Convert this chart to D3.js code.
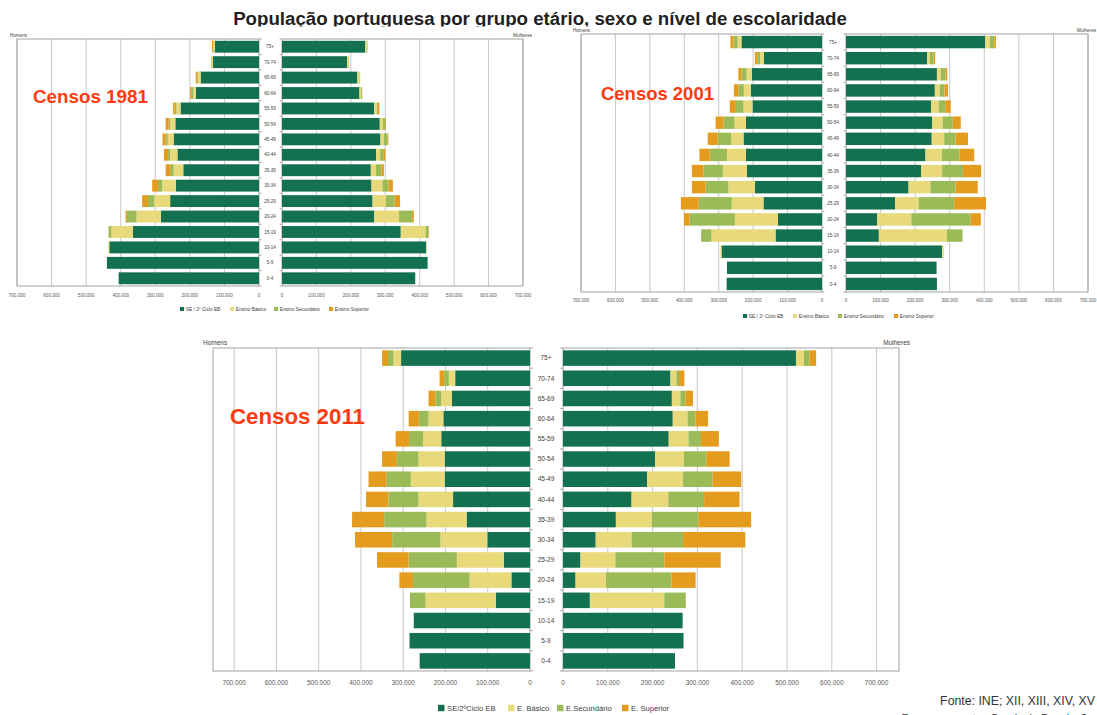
<!DOCTYPE html>
<html><head><meta charset="utf-8">
<script src="https://cdn.jsdelivr.net/npm/d3@7"></script>
<style>body{margin:0;background:#fff} svg{display:block}</style>
</head><body><svg id="c" width="1097" height="715"></svg>
<script>
// ---------- DATA (thousands of persons) ----------
const ages = ["75+","70-74","65-69","60-64","55-59","50-54","45-49","40-44","35-39","30-34","25-29","20-24","15-19","10-14","5-9","0-4"];
const levels = ["SE","EB","ES","SUP"];
const axisTicks = [0,100,200,300,400,500,600,700];
const legendLong = ["SE / 2º Ciclo EB","Ensino Básico","Ensino Secundário","Ensino Superior"];
const legend2011 = ["SE/2ºCiclo EB","E. Básico","E.Secundário","E. Superior"];

const h1981_SE  = [128,133,169,183,227,242,247,236,219,241,257,284,365,433,440,406];
const h1981_EB  = [4,4,7,7,12,15,17,21,28,39,46,70,62,3,0,0];
const h1981_ES  = [1,1,2,4,5,4,6,6,10,12,18,28,7,0,0,0];
const h1981_SUP = [3,1,5,5,5,9,9,12,13,17,17,4,1,0,0,0];
const m1981_SE  = [242,189,219,225,268,284,286,273,258,260,263,268,345,419,423,387];
const m1981_EB  = [6,5,6,4,8,9,10,12,15,32,39,72,72,2,0,0];
const m1981_ES  = [1,1,1,3,3,7,11,9,16,17,25,38,9,0,0,0];
const m1981_SUP = [0,0,1,1,4,2,2,6,7,13,16,5,1,0,0,0];

const h2001_SE  = [234,169,204,207,202,221,228,221,218,195,170,128,135,292,276,277];
const h2001_EB  = [11,11,15,20,26,33,36,55,70,77,92,125,186,3,0,0];
const h2001_ES  = [12,8,15,16,22,32,39,50,56,66,96,132,30,0,0,0];
const h2001_SUP = [9,7,9,13,18,23,29,30,34,40,52,16,0,0,0,0];
const m2001_SE  = [403,235,263,257,246,249,248,230,217,181,142,90,95,278,262,263];
const m2001_EB  = [13,8,11,14,22,31,36,47,61,63,68,99,197,5,0,0];
const m2001_ES  = [13,10,14,14,19,29,33,51,60,73,103,171,45,0,0,0];
const m2001_SUP = [5,5,5,10,16,23,36,43,53,64,92,30,0,0,0,0];

const h2011_SE  = [305,177,185,205,210,202,202,182,150,101,62,44,81,275,285,261];
const h2011_EB  = [18,15,25,35,43,62,80,82,95,111,111,99,166,0,0,0];
const h2011_ES  = [13,11,14,23,33,51,58,71,100,114,114,134,37,0,0,0];
const h2011_SUP = [14,11,16,24,32,35,42,53,76,88,75,32,0,0,0,0];
const m2011_SE  = [520,240,243,245,236,206,188,153,118,73,39,28,60,267,269,250];
const m2011_EB  = [18,13,19,33,44,64,80,82,80,80,78,68,166,0,0,0];
const m2011_ES  = [12,6,11,18,28,50,66,80,104,115,109,146,48,0,0,0];
const m2011_SUP = [15,12,17,28,40,52,64,79,118,139,126,54,0,0,0,0];

// ---------- STYLE ----------
const colors = {SE:"#13714f", EB:"#e8d97a", ES:"#9bbb59", SUP:"#e49c1f"};
const FONT = "'Liberation Sans', Arial, sans-serif";
const fmt = d3.formatLocale({thousands:".", grouping:[3], decimal:",", currency:["",""]}).format(",");

const svg = d3.select("#c");
svg.append("rect").attr("width",1097).attr("height",715).attr("fill","#fff");

function fit(sel, w){
  const l = sel.node().getComputedTextLength();
  const fs = parseFloat(sel.attr("font-size"));
  sel.attr("font-size", fs*w/l);
}

// title (bottom clipped by the panel below, as in the source)
svg.append("clipPath").attr("id","tclip").append("rect").attr("x",0).attr("y",0).attr("width",1097).attr("height",26.5);
const title = svg.append("text").attr("clip-path","url(#tclip)")
  .attr("x",540).attr("y",24.5).attr("text-anchor","middle")
  .attr("font-family",FONT).attr("font-weight","bold").attr("font-size",17).attr("fill","#1f1f1f")
  .text("População portuguesa por grupo etário, sexo e nível de escolaridade");
fit(title, 614);

function rowsFrom(se,eb,es,sup){
  return ages.map((a,i)=>({age:a, SE:se[i], EB:eb[i], ES:es[i], SUP:sup[i]}));
}

function drawPanel(p, menRows, womenRows){
  const g = svg.append("g");
  const y = d3.scaleBand().domain(ages).range([p.y0,p.y1]).paddingInner(0.23).paddingOuter(0.115);
  const xm = d3.scaleLinear().domain([0,p.max]).range([p.mR,p.mL]);
  const xw = d3.scaleLinear().domain([0,p.max]).range([p.wL,p.wR]);
  const stack = d3.stack().keys(levels);

  [[xm,menRows,p.mL,p.mR],[xw,womenRows,p.wL,p.wR]].forEach(([x,rows,a,b])=>{
    const lo=Math.min(a,b), hi=Math.max(a,b);
    // grid
    g.append("g").selectAll("line").data(axisTicks.filter(t=>t>0)).join("line")
      .attr("x1",d=>x(d)).attr("x2",d=>x(d)).attr("y1",p.y0).attr("y2",p.y1)
      .attr("stroke","#c8c8c8").attr("stroke-width",1);
    // frame
    g.append("rect").attr("x",lo).attr("y",p.y0).attr("width",hi-lo).attr("height",p.y1-p.y0)
      .attr("fill","none").attr("stroke","#9a9a9a").attr("stroke-width",0.9);
    // bars
    const series = stack(rows);
    g.append("g").selectAll("g").data(series).join("g").attr("fill",s=>colors[s.key])
      .selectAll("rect").data(s=>s).join("rect")
      .attr("x",d=>Math.min(x(d[0]),x(d[1])))
      .attr("width",d=>Math.abs(x(d[1])-x(d[0])))
      .attr("y",d=>y(d.data.age)).attr("height",y.bandwidth());
    // tick labels
    g.append("g").selectAll("text").data(axisTicks).join("text")
      .attr("x",d=>x(d)).attr("y",p.tickY).attr("text-anchor","middle")
      .attr("font-family",FONT).attr("font-size",p.tickFont).attr("fill","#595959")
      .text(d=>d===0?"0":fmt(d*1000));
  });
  // centre axis ticks
  const step = y.step();
  const bounds = d3.range(ages.length+1).map(i=>p.y0 + y.paddingOuter()*step - y.paddingInner()*step/2 + i*step);
  g.append("g").selectAll("line").data(bounds).join("line")
    .attr("x1",p.mR).attr("x2",p.mR+p.tk).attr("y1",d=>d).attr("y2",d=>d).attr("stroke","#9a9a9a").attr("stroke-width",0.8);
  g.append("g").selectAll("line").data(bounds).join("line")
    .attr("x1",p.wL-p.tk).attr("x2",p.wL).attr("y1",d=>d).attr("y2",d=>d).attr("stroke","#9a9a9a").attr("stroke-width",0.8);
  // age labels
  g.append("g").selectAll("text").data(ages).join("text")
    .attr("x",p.ageX).attr("y",d=>y(d)+y.bandwidth()/2).attr("dy","0.35em").attr("text-anchor","middle")
    .attr("font-family",FONT).attr("font-size",p.ageFont).attr("fill","#404040").text(d=>d);
  // Homens / Mulheres
  g.append("text").attr("x",p.homX).attr("y",p.sexY).attr("font-family",FONT).attr("font-size",p.sexFont)
    .attr("fill","#404040").text("Homens");
  g.append("text").attr("x",p.mulX).attr("y",p.sexY).attr("text-anchor","end").attr("font-family",FONT)
    .attr("font-size",p.sexFont).attr("fill","#404040").text("Mulheres");
  // legend
  p.legX.forEach((lx,i)=>{
    const s = p.legFont*0.85;
    g.append("rect").attr("x",lx).attr("y",p.legY - s/2).attr("width",s).attr("height",s).attr("fill",colors[levels[i]]);
    g.append("text").attr("x",lx+s+p.legFont*0.35).attr("y",p.legY).attr("dy","0.35em")
      .attr("font-family",FONT).attr("font-size",p.legFont).attr("fill","#404040").text(p.legLabels[i]);
  });
  // census label
  const c = g.append("text").attr("x",p.cX).attr("y",p.cY).attr("font-family",FONT).attr("font-weight","bold")
    .attr("font-size",20).attr("fill","#fe3b10").text(p.cText);
  fit(c, p.cW);
}

drawPanel({y0:39,y1:286,max:700,mL:17,mR:259,wL:282,wR:523,ageX:270,ageFont:4.6,tickY:297,tickFont:4.6,tk:2.5,
  homX:10,mulX:532,sexY:37,sexFont:4.6,legX:[180,230,274,329],legY:309,legFont:4.8,legLabels:legendLong,
  cX:33,cY:103,cW:115,cText:"Censos 1981"},
  rowsFrom(h1981_SE,h1981_EB,h1981_ES,h1981_SUP), rowsFrom(m1981_SE,m1981_EB,m1981_ES,m1981_SUP));

drawPanel({y0:34,y1:292,max:700,mL:581,mR:822,wL:846,wR:1088,ageX:833,ageFont:4.6,tickY:302,tickFont:4.6,tk:2.5,
  homX:573,mulX:1096,sexY:31.5,sexFont:4.6,legX:[743,793,838,894],legY:316,legFont:4.8,legLabels:legendLong,
  cX:601,cY:100,cW:113,cText:"Censos 2001"},
  rowsFrom(h2001_SE,h2001_EB,h2001_ES,h2001_SUP), rowsFrom(m2001_SE,m2001_EB,m2001_ES,m2001_SUP));

drawPanel({y0:348,y1:671,max:750,mL:213,mR:530,wL:563,wR:899,ageX:546,ageFont:6.5,tickY:685,tickFont:6.5,tk:3,
  homX:203,mulX:910,sexY:345,sexFont:6.5,legX:[438,508,557,622],legY:708,legFont:7.6,legLabels:legend2011,
  cX:230,cY:424,cW:135,cText:"Censos 2011"},
  rowsFrom(h2011_SE,h2011_EB,h2011_ES,h2011_SUP), rowsFrom(m2011_SE,m2011_EB,m2011_ES,m2011_SUP));

// source
const src = svg.append("text").attr("x",1095).attr("y",705).attr("text-anchor","end")
  .attr("font-family",FONT).attr("font-size",12).attr("fill","#333").text("Fonte: INE; XII, XIII, XIV, XV");
fit(src,155);
svg.append("text").attr("x",1093).attr("y",722).attr("text-anchor","end")
  .attr("font-family",FONT).attr("font-size",11).attr("fill","#333").text("Recenseamentos Gerais da População");
</script></body></html>
